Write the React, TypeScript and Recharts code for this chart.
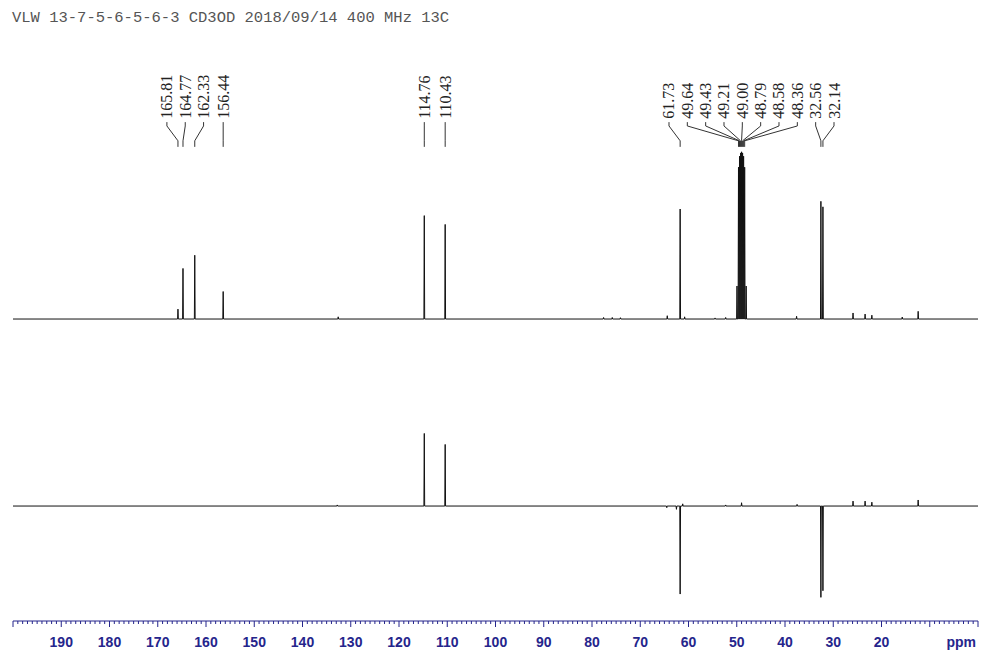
import { LineChart, Line, XAxis, YAxis, ReferenceLine, ReferenceDot } from "recharts"

// 13C spectrum (top trace): labelled peaks, ppm and relative height
const peakPpm13C = [165.81, 164.77, 162.33, 156.44, 114.76, 110.43, 61.73, 49.64, 49.43, 49.21, 49.0, 48.79, 48.58, 48.36, 32.56, 32.14]
const peakHeight13C = [9, 46, 58, 25, 94, 86, 100, 138, 148, 151, 152, 151, 148, 138, 107, 102]

// small unlabelled signals on the top trace
const minorPpm13C = [132.6, 77.6, 75.8, 74.1, 64.4, 60.8, 54.5, 52.3, 49.95, 48.05, 37.6, 25.9, 23.4, 22.0, 15.7, 12.4]
const minorHeight13C = [2, 1.4, 1.4, 1.2, 3, 2, 1, 1.4, 30, 30, 2.5, 5.5, 4.5, 3.5, 1.8, 7]

// DEPT-135 (bottom trace)
const peakPpmDept = [114.76, 110.43, 61.73, 32.56, 32.14]
const peakHeightDept = [66, 56, -80, -83, -77]
const minorPpmDept = [132.8, 64.5, 62.5, 61.2, 52.3, 49.0, 37.5, 25.9, 23.4, 22.0, 12.4]
const minorHeightDept = [1, -1.5, -3, 2, 1, 3, 1.5, 4.5, 4.5, 3.5, 5.5]

const tickLabels = [190, 180, 170, 160, 150, 140, 130, 120, 110, 100, 90, 80, 70, 60, 50, 40, 30, 20]
const title = "VLW 13-7-5-6-5-6-3 CD3OD 2018/09/14 400 MHz 13C"

const AXIS_COLOR = "#25258c"
const TRACE_COLOR = "#111"
const HALF_WIDTH = 0.08
const LABEL_GAP = 3.8 // ppm between neighbouring peak labels

// label / leader heights, in units of the top trace axis
const LABEL_BASE = 182
const LEADER_TOP = 179
const ELBOW_TOP = 175.5
const ELBOW_BOTTOM = 162
const LEADER_END = 156.5

function buildTrace(ppm: number[], height: number[], extraPpm: number[], extraHeight: number[]) {
  const pts = [
    ...ppm.map((p, i) => ({ p, h: height[i] })),
    ...extraPpm.map((p, i) => ({ p, h: extraHeight[i] })),
  ].sort((a, b) => b.p - a.p)
  const out = [{ x: 200, y: 0 }]
  for (const { p, h } of pts) {
    out.push({ x: p + HALF_WIDTH, y: 0 }, { x: p, y: h }, { x: p - HALF_WIDTH, y: 0 })
  }
  out.push({ x: 0, y: 0 })
  return out
}

// push labels apart so neighbours are at least `gap` ppm apart (targets sorted descending)
function spreadLabels(targets: number[], gap: number) {
  const clusters: { s: number; n: number; sum: number }[] = []
  targets.forEach((t, i) => {
    let cur = { s: i, n: 1, sum: t }
    while (clusters.length) {
      const prev = clusters[clusters.length - 1]
      const prevLast = prev.sum / prev.n - (prev.n - 1) * gap
      const curTop = cur.sum / cur.n
      if (prevLast - curTop >= gap) break
      clusters.pop()
      cur = { s: prev.s, n: prev.n + cur.n, sum: prev.sum + cur.sum + cur.n * (cur.s - prev.s) * gap }
    }
    clusters.push(cur)
  })
  const pos: number[] = []
  clusters.forEach((c) => {
    for (let k = 0; k < c.n; k++) pos.push(c.sum / c.n - k * gap)
  })
  return pos
}

const topTrace = buildTrace(peakPpm13C, peakHeight13C, minorPpm13C, minorHeight13C)
const deptTrace = buildTrace(peakPpmDept, peakHeightDept, minorPpmDept, minorHeightDept)
const labelPpm = spreadLabels(peakPpm13C, LABEL_GAP)
const axisTicks = Array.from({ length: 201 }, (_, i) => i)

function PpmTick(props: any) {
  const { x, y, payload } = props
  const v = payload.value
  const major = v % 10 === 0
  return (
    <g>
      <line x1={x} x2={x} y1={y} y2={y + (major ? 6 : 3)} stroke={AXIS_COLOR} strokeWidth={1} />
      {tickLabels.includes(v) && (
        <text
          x={x}
          y={y + 26}
          textAnchor="middle"
          fill={AXIS_COLOR}
          fontFamily="Liberation Sans, Arial, sans-serif"
          fontWeight="bold"
          fontSize={14}
        >
          {v}
        </text>
      )}
    </g>
  )
}

function PeakLabel(props: any) {
  const { cx, cy, value } = props
  return (
    <text
      transform={`translate(${cx},${cy}) rotate(-90)`}
      x={0}
      y={0}
      dominantBaseline="central"
      textAnchor="start"
      fill="#222"
      fontFamily="Liberation Serif, Times New Roman, serif"
      fontSize={16}
    >
      {value}
    </text>
  )
}

export default function App() {
  return (
    <div style={{ position: "absolute", left: 0, top: 0, width: 981, height: 654, background: "#fff" }}>
      <div
        style={{
          position: "absolute",
          left: 12,
          top: 9,
          fontFamily: "Liberation Mono, Courier New, monospace",
          fontSize: 15.5,
          color: "#555",
          whiteSpace: "pre",
        }}
      >
        {title}
      </div>
      <LineChart width={981} height={654} margin={{ top: 0, right: 3, left: 13, bottom: 0 }}>
        <XAxis
          dataKey="x"
          type="number"
          domain={[0, 200]}
          reversed
          allowDataOverflow
          ticks={axisTicks}
          interval={0}
          tickSize={0}
          tickMargin={0}
          tickLine={false}
          tick={<PpmTick />}
          height={33}
          stroke={AXIS_COLOR}
          label={{
            content: (p: any) => (
              <text
                x={p.viewBox.x + p.viewBox.width - 2}
                y={p.viewBox.y + 26}
                textAnchor="end"
                fill={AXIS_COLOR}
                fontFamily="Liberation Sans, Arial, sans-serif"
                fontWeight="bold"
                fontSize={14}
              >
                ppm
              </text>
            ),
          }}
        />
        <YAxis yAxisId="top" hide type="number" domain={[-274.5, 290]} allowDataOverflow />
        <YAxis yAxisId="bot" hide type="number" domain={[-104.5, 460]} allowDataOverflow />

        <Line
          yAxisId="top"
          data={topTrace}
          dataKey="y"
          type="linear"
          stroke={TRACE_COLOR}
          strokeWidth={1}
          dot={false}
          isAnimationActive={false}
        />
        <Line
          yAxisId="bot"
          data={deptTrace}
          dataKey="y"
          type="linear"
          stroke={TRACE_COLOR}
          strokeWidth={1}
          dot={false}
          isAnimationActive={false}
        />

        {peakPpm13C.map((p, i) => (
          <ReferenceLine
            key={`a${i}`}
            yAxisId="top"
            segment={[
              { x: labelPpm[i], y: LEADER_TOP },
              { x: labelPpm[i], y: ELBOW_TOP },
            ]}
            stroke="#333"
            strokeWidth={1}
          />
        ))}
        {peakPpm13C.map((p, i) => (
          <ReferenceLine
            key={`b${i}`}
            yAxisId="top"
            segment={[
              { x: labelPpm[i], y: ELBOW_TOP },
              { x: p, y: ELBOW_BOTTOM },
            ]}
            stroke="#333"
            strokeWidth={1}
          />
        ))}
        {peakPpm13C.map((p, i) => (
          <ReferenceLine
            key={`c${i}`}
            yAxisId="top"
            segment={[
              { x: p, y: ELBOW_BOTTOM },
              { x: p, y: LEADER_END },
            ]}
            stroke="#333"
            strokeWidth={1}
          />
        ))}
        {peakPpm13C.map((p, i) => (
          <ReferenceDot
            key={`l${i}`}
            yAxisId="top"
            x={labelPpm[i]}
            y={LABEL_BASE}
            r={0}
            shape={(props: any) => <PeakLabel {...props} value={p.toFixed(2)} />}
          />
        ))}
      </LineChart>
    </div>
  )
}
